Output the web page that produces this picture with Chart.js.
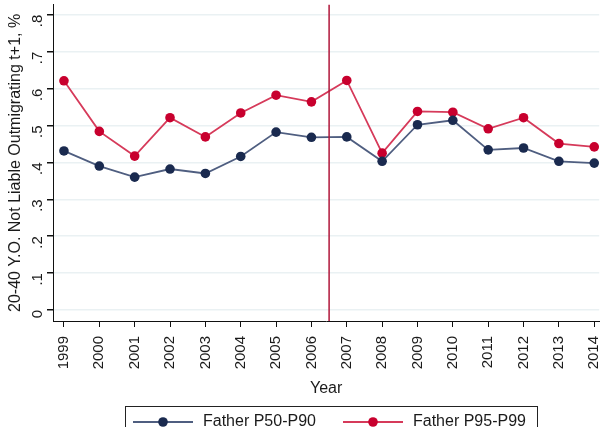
<!DOCTYPE html>
<html>
<head>
<meta charset="utf-8">
<script src="https://cdn.jsdelivr.net/npm/chart.js@4/dist/chart.umd.min.js"></script>
<style>
  html, body { margin: 0; padding: 0; background: #fff; overflow: hidden; }
  #wrap { width: 604px; height: 427px; overflow: hidden; }
</style>
</head>
<body>
<div id="wrap"><canvas id="chart" width="604" height="445"></canvas></div>
<script>
// data
var years = [1999, 2000, 2001, 2002, 2003, 2004, 2005, 2006, 2007, 2008, 2009, 2010, 2011, 2012, 2013, 2014];
var p50p90 = [0.431, 0.390, 0.360, 0.382, 0.370, 0.416, 0.482, 0.468, 0.469, 0.403, 0.502, 0.514, 0.434, 0.439, 0.403, 0.398];
var p95p99 = [0.621, 0.484, 0.417, 0.521, 0.469, 0.534, 0.582, 0.564, 0.622, 0.425, 0.538, 0.536, 0.491, 0.521, 0.451, 0.442];
var yTicks = [0, 0.1, 0.2, 0.3, 0.4, 0.5, 0.6, 0.7, 0.8];
var breakYear = 2006.5;

var seriesNames = ['Father P50-P90', 'Father P95-P99'];
var lineColors = ['#4f5e80', '#d63a5a'];
var dotColors = ['#1a2a4f', '#c8002e'];

function toPoints(vals){
    return years.map(function(y, i){ return {x: y, y: vals[i]}; });
}

function fmtTick(v){
    if (Math.abs(v) < 1e-9) return '0';
    return String(Math.round(v * 10) / 10).replace(/^0/, '');
}

// vertical line at the break
var breakLine = {
    id: 'breakLine',
    afterDatasetsDraw: function(chart){
        var ctx = chart.ctx, a = chart.chartArea;
        var x = chart.scales.x.getPixelForValue(breakYear);
        ctx.save();
        ctx.strokeStyle = '#b0163a';
        ctx.lineWidth = 1.5;
        ctx.beginPath();
        ctx.moveTo(x, a.top);
        ctx.lineTo(x, a.bottom);
        ctx.stroke();
        ctx.restore();
    }
};

// stata style legend in a box
var boxLegend = {
    id: 'boxLegend',
    afterDraw: function(chart){
        var ctx = chart.ctx;
        ctx.save();
        ctx.strokeStyle = '#222';
        ctx.lineWidth = 1;
        ctx.strokeRect(125.5, 406.5, 412, 34);
        var starts = [133, 343];
        ctx.font = '16px "Liberation Sans", Arial, sans-serif';
        ctx.textBaseline = 'middle';
        for (var i = 0; i < 2; i++){
            var x0 = starts[i], yc = 422;
            ctx.strokeStyle = lineColors[i];
            ctx.lineWidth = 2;
            ctx.beginPath();
            ctx.moveTo(x0, yc);
            ctx.lineTo(x0 + 60, yc);
            ctx.stroke();
            ctx.fillStyle = dotColors[i];
            ctx.beginPath();
            ctx.arc(x0 + 30, yc, 4.8, 0, Math.PI * 2);
            ctx.fill();
            ctx.fillStyle = '#1a1a1a';
            ctx.fillText(seriesNames[i], x0 + 70, yc);
        }
        ctx.restore();
    }
};

Chart.defaults.font.family = '"Liberation Sans", Arial, sans-serif';
Chart.defaults.color = '#1a1a1a';

var ctx = document.getElementById('chart');
var chart = new Chart(ctx, {
    type: 'line',
    data: {
        datasets: [{
            label: seriesNames[0],
            data: toPoints(p50p90),
            borderColor: lineColors[0],
            backgroundColor: dotColors[0],
            pointBackgroundColor: dotColors[0],
            pointBorderColor: dotColors[0],
            borderWidth: 1.8,
            pointRadius: 4.8,
            pointBorderWidth: 0
        }, {
            label: seriesNames[1],
            data: toPoints(p95p99),
            borderColor: lineColors[1],
            backgroundColor: dotColors[1],
            pointBackgroundColor: dotColors[1],
            pointBorderColor: dotColors[1],
            borderWidth: 1.8,
            pointRadius: 4.8,
            pointBorderWidth: 0
        }]
    },
    options: {
        responsive: false,
        animation: false,
        layout: { padding: { top: 4, right: 0, left: 0, bottom: 47 } },
        plugins: {
            legend: { display: false },
            tooltip: { enabled: false }
        },
        scales: {
            x: {
                type: 'linear',
                min: 1998.69,
                max: 2014.14,
                afterBuildTicks: function(s){
                    s.ticks = years.map(function(y){ return {value: y}; });
                },
                afterFit: function(s){
                    s.height = 77;
                    s.paddingLeft = 0;
                    s.paddingRight = 0;
                },
                border: { color: '#111', width: 1 },
                grid: { drawOnChartArea: false, tickColor: '#111', tickLength: 6 },
                ticks: {
                    minRotation: 90, maxRotation: 90,
                    autoSkip: false,
                    padding: 9,
                    font: { size: 15 },
                    callback: function(v){ return String(v); }
                },
                title: { display: true, text: 'Year', font: { size: 16 }, padding: { top: 4, bottom: 0 } }
            },
            y: {
                min: -0.0298,
                max: 0.827,
                afterBuildTicks: function(s){
                    s.ticks = yTicks.map(function(v){ return {value: v}; });
                },
                afterFit: function(s){
                    s.width = 53;
                    s.paddingTop = 0;
                    s.paddingBottom = 0;
                },
                border: { color: '#111', width: 1 },
                grid: { color: '#eaf1f3', lineWidth: 1.5, tickColor: '#111', tickLength: 6 },
                ticks: {
                    minRotation: 90, maxRotation: 90,
                    padding: 9,
                    font: { size: 15 },
                    callback: function(v){ return fmtTick(v); }
                },
                title: {
                    display: true,
                    text: '20-40 Y.O. Not Liable Outmigrating t+1, %',
                    font: { size: 16 },
                    padding: { top: 6, bottom: 0 }
                }
            }
        }
    },
    plugins: [breakLine, boxLegend]
});
</script>
</body>
</html>
